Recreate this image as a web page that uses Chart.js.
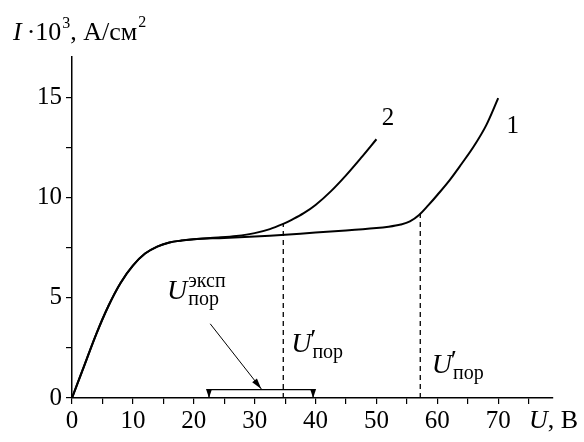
<!DOCTYPE html>
<html>
<head>
<meta charset="utf-8">
<script src="https://cdn.jsdelivr.net/npm/chart.js@4.4.1/dist/chart.umd.min.js"></script>
<style>
  body { margin: 0; background: #fff; }
</style>
</head>
<body>
<canvas id="ivChart" width="584" height="442"></canvas>
<script>
// curve 1 (U, V -> I*10^3, A/cm^2)
const curve1U = [0, 2, 4, 6, 8, 10, 12, 14, 16, 18, 20, 25, 30, 35, 40, 45, 50, 52, 54, 55.5, 57, 58.5, 60, 62, 64, 66, 68, 70];
const curve1I = [0, 1.6, 3.2, 4.6, 5.75, 6.6, 7.2, 7.55, 7.75, 7.85, 7.92, 7.98, 8.05, 8.14, 8.25, 8.35, 8.47, 8.54, 8.65, 8.8, 9.12, 9.6, 10.12, 10.85, 11.68, 12.55, 13.58, 14.95];

// curve 2 splits off the plateau around 22 V
const curve2U = [0, 2, 4, 6, 8, 10, 12, 14, 16, 18, 20, 24, 27, 30, 32.5, 34.7, 36, 38, 40, 42.5, 45, 47.5, 50];
const curve2I = [0, 1.6, 3.2, 4.6, 5.75, 6.6, 7.2, 7.55, 7.75, 7.85, 7.92, 8.0, 8.08, 8.22, 8.42, 8.68, 8.87, 9.2, 9.62, 10.3, 11.1, 11.98, 12.9];

// threshold voltages U'пор and the experimental range
const thresholdU = [34.7, 57.2];
const thresholdI = [8.7, 9.18];
const expRangeU = [22.5, 39.6];
const expRangeLevel = 0.42;
const pointerFrom = [22.7, 3.7];
const pointerTo = [31.1, 0.45];

// axis ticks
const xTickStep = 5, xMax = 79;
const yTickStep = 2.5, yMax = 17;

const toPoints = (xs, ys) => xs.map((x, i) => ({ x: x, y: ys[i] }));

const serif = "'Liberation Serif', 'Times New Roman', serif";

function arrowHead(ctx, x0, y0, x1, y1, len, half) {
  const a = Math.atan2(y1 - y0, x1 - x0);
  ctx.beginPath();
  ctx.moveTo(x1, y1);
  ctx.lineTo(x1 - len * Math.cos(a) + half * Math.sin(a), y1 - len * Math.sin(a) - half * Math.cos(a));
  ctx.lineTo(x1 - len * Math.cos(a) - half * Math.sin(a), y1 - len * Math.sin(a) + half * Math.cos(a));
  ctx.closePath();
  ctx.fill();
}

// U with superscript / subscript
function drawU(ctx, px, py, sup, sub, prime) {
  ctx.font = 'italic 28px ' + serif;
  ctx.fillText('U', px, py);
  const w = ctx.measureText('U').width;
  if (prime) {
    ctx.font = 'italic 28px ' + serif;
    ctx.fillText('\u2032', px + w - 3, py - 4);
  }
  ctx.font = '20px ' + serif;
  if (sup) ctx.fillText(sup, px + w + 1, py - 12);
  if (sub) ctx.fillText(sub, px + w + 1, py + 6);
}

const annotations = {
  id: 'annotations',
  afterDatasetsDraw(chart) {
    const { ctx, scales: { x, y } } = chart;
    ctx.save();
    ctx.fillStyle = '#000';
    ctx.textAlign = 'left';
    ctx.textBaseline = 'alphabetic';

    // arrow heads on the bracket legs and the pointer
    const by = y.getPixelForValue(expRangeLevel), b0 = y.getPixelForValue(0);
    expRangeU.forEach(u => {
      const px = x.getPixelForValue(u);
      arrowHead(ctx, px, by, px, b0, 9, 3);
    });
    arrowHead(ctx, x.getPixelForValue(pointerFrom[0]), y.getPixelForValue(pointerFrom[1]),
      x.getPixelForValue(pointerTo[0]), y.getPixelForValue(pointerTo[1]), 11, 3);

    // y axis title
    let px = 13;
    const py = 40;
    ctx.font = 'italic 26px ' + serif;
    ctx.fillText('I', px, py);
    px += ctx.measureText('I').width + 5;
    ctx.font = '26px ' + serif;
    ctx.fillText('\u00b710', px, py);
    px += ctx.measureText('\u00b710').width;
    ctx.font = '16px ' + serif;
    ctx.fillText('3', px + 1, py - 12);
    px += ctx.measureText('3').width + 1;
    ctx.font = '26px ' + serif;
    ctx.fillText(', A/\u0441\u043c', px, py);
    px += ctx.measureText(', A/\u0441\u043c').width;
    ctx.font = '16px ' + serif;
    ctx.fillText('2', px + 1, py - 13);

    // x axis title
    ctx.font = 'italic 26px ' + serif;
    ctx.fillText('U', 529, 428);
    const uw = ctx.measureText('U').width;
    ctx.font = '26px ' + serif;
    ctx.fillText(', \u0412', 529 + uw, 428);

    // curve numbers
    ctx.font = '25px ' + serif;
    ctx.textAlign = 'center';
    ctx.fillText('2', x.getPixelForValue(51.9), y.getPixelForValue(13.6));
    ctx.fillText('1', x.getPixelForValue(72.4), y.getPixelForValue(13.2));
    ctx.textAlign = 'left';

    // threshold labels
    drawU(ctx, x.getPixelForValue(15.6), y.getPixelForValue(4.96), '\u044d\u043a\u0441\u043f', '\u043f\u043e\u0440', false);
    drawU(ctx, x.getPixelForValue(36.0), y.getPixelForValue(2.27), null, '\u043f\u043e\u0440', true);
    drawU(ctx, x.getPixelForValue(59.1), y.getPixelForValue(1.23), null, '\u043f\u043e\u0440', true);

    ctx.restore();
  }
};

const ctx = document.getElementById('ivChart').getContext('2d');
const ivChart = new Chart(ctx, {
  type: 'line',
  data: {
    datasets: [
      {
        label: '1',
        data: toPoints(curve1U, curve1I),
        borderColor: '#000',
        borderWidth: 2,
        tension: 0.35,
        pointRadius: 0
      },
      {
        label: '2',
        data: toPoints(curve2U, curve2I),
        borderColor: '#000',
        borderWidth: 2,
        tension: 0.35,
        pointRadius: 0
      },
      ...thresholdU.map((u, i) => ({
        label: 'threshold',
        data: [{ x: u, y: 0 }, { x: u, y: thresholdI[i] }],
        borderColor: '#000',
        borderWidth: 1.3,
        borderDash: [5, 4],
        pointRadius: 0,
        tension: 0
      })),
      {
        label: 'range',
        data: [
          { x: expRangeU[0], y: 0 },
          { x: expRangeU[0], y: expRangeLevel },
          { x: expRangeU[1], y: expRangeLevel },
          { x: expRangeU[1], y: 0 }
        ],
        borderColor: '#000',
        borderWidth: 1.2,
        pointRadius: 0,
        tension: 0
      },
      {
        label: 'pointer',
        data: [
          { x: pointerFrom[0], y: pointerFrom[1] },
          { x: pointerTo[0], y: pointerTo[1] }
        ],
        borderColor: '#000',
        borderWidth: 1,
        pointRadius: 0,
        tension: 0
      }
    ]
  },
  options: {
    responsive: false,
    animation: false,
    layout: { padding: { top: 57, right: 31, left: 0, bottom: 0 } },
    plugins: {
      legend: { display: false },
      tooltip: { enabled: false }
    },
    scales: {
      x: {
        type: 'linear',
        min: 0,
        max: xMax,
        afterFit: s => { s.height = 44; },
        grid: { drawOnChartArea: false, drawTicks: true, tickLength: 6, color: '#000', lineWidth: 1.2 },
        border: { display: true, color: '#000', width: 1.5 },
        ticks: {
          stepSize: xTickStep,
          includeBounds: false,
          autoSkip: false,
          maxRotation: 0,
          padding: 2,
          color: '#000',
          font: { family: serif, size: 25 },
          callback: v => (v % 10 === 0 ? v : '')
        }
      },
      y: {
        min: 0,
        max: yMax,
        afterFit: s => { s.width = 72; },
        grid: { drawOnChartArea: false, drawTicks: true, tickLength: 6, color: '#000', lineWidth: 1.2 },
        border: { display: true, color: '#000', width: 1.5 },
        ticks: {
          stepSize: yTickStep,
          includeBounds: false,
          autoSkip: false,
          padding: 4,
          color: '#000',
          font: { family: serif, size: 25 },
          callback: v => (v % 5 === 0 ? v : '')
        }
      }
    }
  },
  plugins: [annotations]
});
</script>
</body>
</html>
